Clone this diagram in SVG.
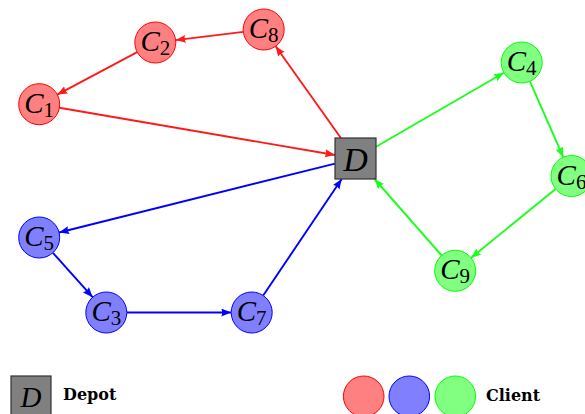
<svg xmlns="http://www.w3.org/2000/svg" width="585" height="414" viewBox="0 0 585 414">
<style>
.red{fill:#ff8080;stroke:#ff0000;stroke-width:1}
.blue{fill:#8080ff;stroke:#0000ff;stroke-width:1}
.green{fill:#80ff80;stroke:#00ff00;stroke-width:1}
.depot{fill:#808080;stroke:#333333;stroke-width:1.2}
.lbl{font-family:"Liberation Serif",serif;font-style:italic;font-size:29px;fill:#000}
.sub{font-style:normal;font-size:21px}
.dl{font-family:"Liberation Serif",serif;font-style:italic;font-size:34px;fill:#000}
.leg{font-family:"DejaVu Serif",serif;font-weight:bold;font-size:16px;fill:#000}
.er{stroke:#ff1a1a;stroke-width:1.9;fill:none;marker-end:url(#ar)}
.eb{stroke:#0000ff;stroke-width:1.9;fill:none;marker-end:url(#ab)}
.eg{stroke:#1aff1a;stroke-width:1.9;fill:none;marker-end:url(#ag)}
</style>
<defs>
<marker id="ar" markerUnits="userSpaceOnUse" markerWidth="11" markerHeight="9" refX="10" refY="4" orient="auto"><path d="M0,0 L10,4 L0,8 Q2,4 0,0 Z" fill="#ff1a1a"/></marker>
<marker id="ab" markerUnits="userSpaceOnUse" markerWidth="11" markerHeight="9" refX="10" refY="4" orient="auto"><path d="M0,0 L10,4 L0,8 Q2,4 0,0 Z" fill="#0000ff"/></marker>
<marker id="ag" markerUnits="userSpaceOnUse" markerWidth="11" markerHeight="9" refX="10" refY="4" orient="auto"><path d="M0,0 L10,4 L0,8 Q2,4 0,0 Z" fill="#1aff1a"/></marker>
</defs>
<g id="connectors">
<line class="er" x1="340.9" y1="138" x2="275.6" y2="46.2"/>
<line class="er" x1="243.3" y1="31.9" x2="175.7" y2="40.1"/>
<line class="er" x1="137.2" y1="52.1" x2="57.3" y2="94.6"/>
<line class="er" x1="59.4" y1="107.7" x2="335" y2="155"/>
<line class="eg" x1="376" y1="146.7" x2="503.9" y2="72.8"/>
<line class="eg" x1="529.9" y1="81.3" x2="563.3" y2="157.2"/>
<line class="eg" x1="555.6" y1="189" x2="471.1" y2="257.8"/>
<line class="eg" x1="441.6" y1="255.5" x2="374.5" y2="179"/>
<line class="eb" x1="335" y1="163.6" x2="59.1" y2="232.5"/>
<line class="eb" x1="52.9" y1="252.8" x2="92.6" y2="297.2"/>
<line class="eb" x1="126.8" y1="312.5" x2="231.2" y2="312.5"/>
<line class="eb" x1="263.2" y1="295.5" x2="341.7" y2="179"/>
</g>
<g id="D"><rect class="depot" x="335" y="138" width="41" height="41"/><text class="dl" x="355.5" y="170.5" text-anchor="middle">D</text></g>
<g id="C1"><circle class="red" cx="39.2" cy="104.2" r="20.5"/><text class="lbl" x="39.2" y="112.7" text-anchor="middle">C<tspan class="sub" dy="4">1</tspan></text></g>
<g id="C2"><circle class="red" cx="155.3" cy="42.5" r="20.5"/><text class="lbl" x="155.3" y="51" text-anchor="middle">C<tspan class="sub" dy="4">2</tspan></text></g>
<g id="C8"><circle class="red" cx="263.7" cy="29.5" r="20.5"/><text class="lbl" x="263.7" y="38" text-anchor="middle">C<tspan class="sub" dy="4">8</tspan></text></g>
<g id="C4"><circle class="green" cx="521.7" cy="62.5" r="20.5"/><text class="lbl" x="521.7" y="71" text-anchor="middle">C<tspan class="sub" dy="4">4</tspan></text></g>
<g id="C6"><circle class="green" cx="571.5" cy="176" r="20.5"/><text class="lbl" x="571.5" y="184.5" text-anchor="middle">C<tspan class="sub" dy="4">6</tspan></text></g>
<g id="C9"><circle class="green" cx="455.2" cy="270.8" r="20.5"/><text class="lbl" x="455.2" y="279.3" text-anchor="middle">C<tspan class="sub" dy="4">9</tspan></text></g>
<g id="C5"><circle class="blue" cx="39.2" cy="237.5" r="20.5"/><text class="lbl" x="39.2" y="246" text-anchor="middle">C<tspan class="sub" dy="4">5</tspan></text></g>
<g id="C3"><circle class="blue" cx="106.3" cy="312.5" r="20.5"/><text class="lbl" x="106.3" y="321" text-anchor="middle">C<tspan class="sub" dy="4">3</tspan></text></g>
<g id="C7"><circle class="blue" cx="251.7" cy="312.5" r="20.5"/><text class="lbl" x="251.7" y="321" text-anchor="middle">C<tspan class="sub" dy="4">7</tspan></text></g>
<g id="legend-depot"><rect class="depot" x="11" y="376" width="40" height="40"/><text class="lbl" x="31" y="406.5" text-anchor="middle">D</text><text class="leg" x="63" y="400">Depot</text></g>
<g id="legend-client"><circle class="red" cx="363.7" cy="396.3" r="20.3"/><circle class="blue" cx="409.3" cy="396.3" r="20.3"/><circle class="green" cx="455.3" cy="396.3" r="20.3"/><text class="leg" x="486" y="401">Client</text></g>
</svg>
